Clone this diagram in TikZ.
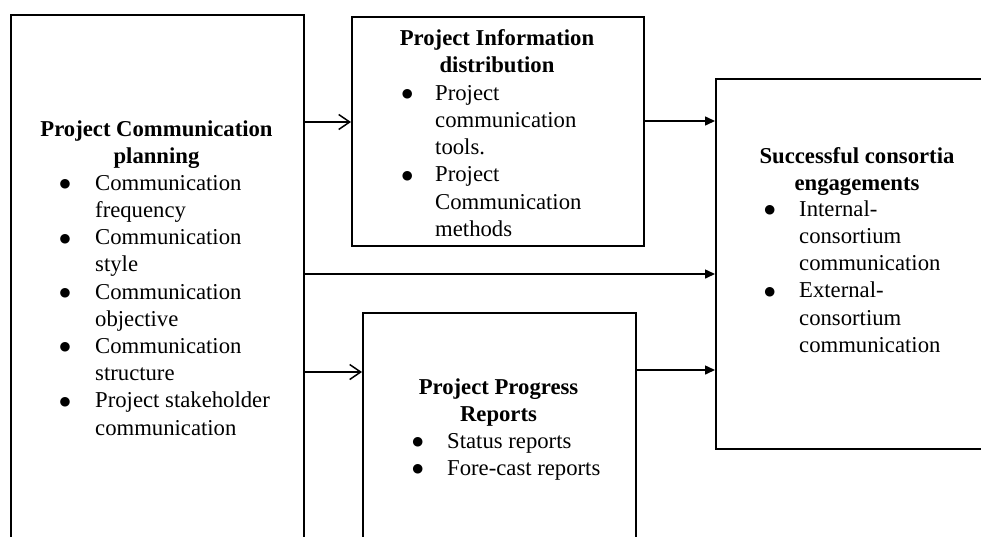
\documentclass[tikz,border=0pt]{standalone}
\usepackage{fontspec}
\setmainfont{Liberation Serif}
\newfontfamily\symfont{DejaVu Sans}
\usetikzlibrary{arrows.meta}
\newcommand\mybullet{\hspace*{6.1pt}\makebox[0pt][c]{\raisebox{2.6pt}{\fontsize{12.5}{12.5}\symfont ●}}}
\begin{document}
\begin{tikzpicture}[x=1pt,y=-1pt,
  box/.style={draw, line width=1.5pt, rectangle, inner sep=0pt, anchor=north west},
  txt/.style={inner sep=0pt, font=\fontsize{22.7}{27.2}\selectfont},
  hdr/.style={txt, anchor=north},
  lst/.style={txt, anchor=north west},
  openarr/.style={line width=1.5pt, -{Straight Barb[length=11pt,width=15pt,line width=1.5pt]}},
  fillarr/.style={line width=1.5pt, -{Triangle[length=10pt,width=9pt]}}]
\path[use as bounding box] (0,0) rectangle (981,536);
\clip (0,0) rectangle (981,536);
% boxes
\node[box, minimum width=293pt, minimum height=546pt] (L) at (10,14) {};
\node[box, minimum width=292pt, minimum height=229pt] (T) at (351,16) {};
\node[box, minimum width=273pt, minimum height=250pt] (B) at (362,312) {};
\node[box, minimum width=300pt, minimum height=370pt] (R) at (715,78) {};
% left box text
\node[hdr] (Lh) at (156.5,116.96) {\begin{tabular}{@{}c@{}}\textbf{Project Communication}\\ \textbf{planning}\end{tabular}};
\node[lst] (Ll) at (58.7,170.96) {\begin{tabular}{@{}p{36.3pt}@{}l@{}}
\mybullet & Communication\\ & frequency\\
\mybullet & Communication\\ & style\\
\mybullet & Communication\\ & objective\\
\mybullet & Communication\\ & structure\\
\mybullet & Project stakeholder\\ & communication
\end{tabular}};
% top box text
\node[hdr] (Th) at (497,25.96) {\begin{tabular}{@{}c@{}}\textbf{Project Information}\\ \textbf{distribution}\end{tabular}};
\node[lst] (Tl) at (400.9,80.96) {\begin{tabular}{@{}p{34.1pt}@{}l@{}}
\mybullet & Project\\ & communication\\ & tools.\\
\mybullet & Project\\ & Communication\\ & methods
\end{tabular}};
% bottom box text
\node[hdr] (Bh) at (498.5,374.96) {\begin{tabular}{@{}c@{}}\textbf{Project Progress}\\ \textbf{Reports}\end{tabular}};
\node[lst] (Bl) at (411.4,428.96) {\begin{tabular}{@{}p{35.6pt}@{}l@{}}
\mybullet & Status reports\\
\mybullet & Fore-cast reports
\end{tabular}};
% right box text
\node[hdr] (Rh) at (857,143.96) {\begin{tabular}{@{}c@{}}\textbf{Successful consortia}\\ \textbf{engagements}\end{tabular}};
\node[lst] (Rl) at (763.4,196.96) {\begin{tabular}{@{}p{35.6pt}@{}l@{}}
\mybullet & Internal-\\ & consortium\\ & communication\\
\mybullet & External-\\ & consortium\\ & communication
\end{tabular}};
% connector levels
\coordinate (y1) at (0,122);
\coordinate (y2) at (0,121);
\coordinate (y3) at (0,274);
\coordinate (y4) at (0,372);
\coordinate (y5) at (0,370);
\draw[openarr] (L.east |- y1) -- (T.west |- y1);
\draw[fillarr] (T.east |- y2) -- (R.west |- y2);
\draw[fillarr] (L.east |- y3) -- (R.west |- y3);
\draw[openarr] (L.east |- y4) -- (B.west |- y4);
\draw[fillarr] (B.east |- y5) -- (R.west |- y5);
\end{tikzpicture}
\end{document}
